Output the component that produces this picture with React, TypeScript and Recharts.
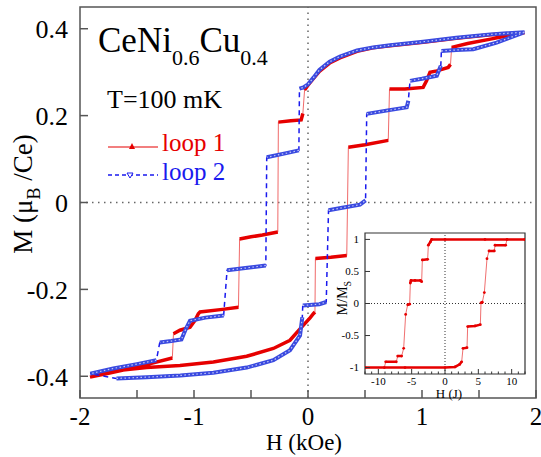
import React from 'react';
import { LineChart, Line, XAxis, YAxis, ReferenceLine, ReferenceArea } from 'recharts';

type Pt = [number, number];

// loop 1 (red): field swept down from +1.9 kOe, then back up; one array per plateau
const loop1Down: Pt[][] = [
  [[1.9, 0.391], [1.6, 0.386], [1.3, 0.378], [1.01, 0.369], [0.72, 0.361], [0.57, 0.356], [0.43, 0.348],
   [0.28, 0.333], [0.19, 0.321], [0.1, 0.302], [0.05, 0.286], [0.0, 0.27], [-0.03, 0.259]],
  [[-0.045, 0.205], [-0.06, 0.19], [-0.15, 0.188], [-0.26, 0.185]],
  [[-0.265, -0.068], [-0.4, -0.075], [-0.5, -0.079], [-0.6, -0.084]],
  [[-0.61, -0.241], [-0.75, -0.246], [-0.947, -0.252], [-0.962, -0.256], [-0.991, -0.271], [-1.035, -0.287],
   [-1.123, -0.294], [-1.18, -0.302]],
  [[-1.19, -0.358], [-1.4, -0.372], [-1.561, -0.382], [-1.75, -0.393], [-1.912, -0.402]],
];
const loop1Up: Pt[][] = [
  [[-1.912, -0.402], [-1.708, -0.388], [-1.415, -0.38], [-1.123, -0.375], [-0.83, -0.367], [-0.538, -0.354],
   [-0.304, -0.336], [-0.158, -0.317], [-0.056, -0.287], [0.02, -0.265], [0.047, -0.256], [0.061, -0.252]],
  [[0.065, -0.129], [0.2, -0.126], [0.34, -0.122]],
  [[0.354, 0.127], [0.5, 0.133], [0.704, 0.143]],
  [[0.715, 0.261], [0.85, 0.261], [1.01, 0.265], [1.04, 0.28], [1.07, 0.3], [1.13, 0.303], [1.23, 0.311], [1.25, 0.318]],
  [[1.26, 0.357], [1.4, 0.366], [1.6, 0.376], [1.75, 0.384], [1.89, 0.391]],
];

// loop 2 (blue)
const loop2Down: Pt[][] = [
  [[1.9, 0.392], [1.6, 0.387], [1.3, 0.379], [1.01, 0.37], [0.72, 0.362], [0.57, 0.357], [0.43, 0.35],
   [0.28, 0.336], [0.19, 0.324], [0.1, 0.305], [0.05, 0.288], [0.0, 0.272], [-0.04, 0.265], [-0.075, 0.262]],
  [[-0.08, 0.12], [-0.2, 0.113], [-0.362, 0.104]],
  [[-0.37, -0.145], [-0.55, -0.151], [-0.71, -0.156]],
  [[-0.74, -0.26], [-0.9, -0.265], [-1.035, -0.272], [-1.07, -0.29], [-1.11, -0.315], [-1.2, -0.319], [-1.3, -0.322]],
  [[-1.33, -0.363], [-1.5, -0.372], [-1.708, -0.382], [-1.91, -0.394]],
];
const loop2Up: Pt[][] = [
  [[-1.68, -0.405], [-1.415, -0.402], [-1.12, -0.398], [-0.83, -0.392], [-0.538, -0.38], [-0.304, -0.363],
   [-0.158, -0.34], [-0.07, -0.306], [-0.05, -0.264]],
  [[-0.046, -0.237], [0.1, -0.234], [0.16, -0.229]],
  [[0.18, -0.018], [0.3, -0.012], [0.456, -0.005], [0.505, 0.005]],
  [[0.515, 0.204], [0.7, 0.212], [0.866, 0.219], [0.88, 0.234]],
  [[0.895, 0.28], [1.0, 0.285], [1.13, 0.292], [1.165, 0.315]],
  [[1.17, 0.349], [1.3, 0.351], [1.45, 0.353], [1.655, 0.368], [1.89, 0.391]],
];

// inset: M/Ms vs H (J)
const insetDown: Pt[][] = [
  [[12, 1.0], [6, 1.0], [0, 1.0], [-2.0, 1.0], [-2.2, 0.96], [-2.5, 0.91]],
  [[-2.6, 0.69], [-3.4, 0.68]],
  [[-3.5, 0.34], [-3.7, 0.36], [-4.5, 0.36], [-5.1, 0.36], [-5.2, 0.32]],
  [[-5.3, -0.01], [-5.6, -0.02]],
  [[-5.9, -0.17]],
  [[-6.2, -0.7]],
  [[-6.5, -0.82], [-7.1, -0.82]],
  [[-7.3, -0.91], [-8.9, -0.91]],
  [[-9.1, -1.0], [-12, -1.0]],
];
const insetUp: Pt[][] = [
  [[-12, -1.0], [-6, -1.0], [0, -1.0], [1.5, -0.99], [2.2, -0.95], [2.5, -0.91]],
  [[2.7, -0.7], [3.3, -0.69]],
  [[3.4, -0.36], [4.5, -0.35], [5.3, -0.33]],
  [[5.4, 0.01], [5.6, 0.02]],
  [[5.9, 0.17]],
  [[6.3, 0.7]],
  [[6.6, 0.82], [7.4, 0.82]],
  [[7.5, 0.91], [9.1, 0.91]],
  [[9.3, 1.0], [12, 1.0]],
];

// all tick positions; only the ones in the *Labels lists get a number
const mainXTicks = [-2, -1.5, -1, -0.5, 0, 0.5, 1, 1.5, 2];
const mainXLabels = [-2, -1, 0, 1, 2];
const mainYTicks = [-0.4, -0.2, 0, 0.2, 0.4];
const insetXTicks = [-12, -11, -10, -9, -8, -7, -6, -5, -4, -3, -2, -1, 0, 1, 2, 3, 4, 5, 6, 7, 8, 9, 10, 11, 12];
const insetXLabels = [-10, -5, 0, 5, 10];
const insetYTicks = [-1, -0.5, 0, 0.5, 1];

const serif = 'Liberation Serif, Times New Roman, serif';

// thin line through every point, and a thick band that breaks at each jump
const thin = (segs: Pt[][]) => segs.flat().map(([x, y]) => ({ x, y }));
const band = (segs: Pt[][]) =>
  segs.flatMap((s) => [...s.map(([x, y]) => ({ x, y })), { x: s[s.length - 1][0], y: null }]);

const loop1 = [...loop1Down, ...loop1Up];
const loop2 = [...loop2Down, ...loop2Up];
const inset = [...insetDown, ...insetUp];

// ticks point into the plot, labels sit outside
const bottomTick = (gap: number, major: number, minor: number, labels: number[], fontSize: number, color: string, sw: number) =>
  (props: any) => {
    const { x, y, payload } = props;
    const on = labels.includes(payload.value);
    const y0 = y - gap;
    return (
      <g>
        <line x1={x} x2={x} y1={y0} y2={y0 - (on ? major : minor)} stroke={color} strokeWidth={sw} />
        {on && (
          <text x={x} y={y} dy="0.71em" textAnchor="middle" fontFamily={serif} fontSize={fontSize} fill="#000">
            {payload.value}
          </text>
        )}
      </g>
    );
  };

const leftTick = (gap: number, len: number, fontSize: number, color: string, sw: number) =>
  (props: any) => {
    const { x, y, payload } = props;
    const x0 = x + gap;
    return (
      <g>
        <line x1={x0} x2={x0 + len} y1={y} y2={y} stroke={color} strokeWidth={sw} />
        <text x={x} y={y} dy="0.355em" textAnchor="end" fontFamily={serif} fontSize={fontSize} fill="#000">
          {payload.value}
        </text>
      </g>
    );
  };

const MainChart = () => (
  <LineChart width={541} height={457} margin={{ top: 7, right: 5, bottom: 58, left: 79 }}>
    <XAxis type="number" dataKey="x" domain={[-2, 2]} ticks={mainXTicks} allowDataOverflow interval={0}
      axisLine={false} tickLine={false} tickSize={0} tickMargin={9} height={1}
      tick={bottomTick(9, 8, 8, mainXLabels, 25, '#555', 1.5)} />
    <YAxis type="number" domain={[-0.45, 0.45]} ticks={mainYTicks} allowDataOverflow interval={0}
      axisLine={false} tickLine={false} tickSize={0} tickMargin={12} width={1}
      tick={leftTick(12, 8, 26, '#555', 1.5)} />
    <ReferenceArea x1={-2} x2={2} y1={-0.45} y2={0.45} fill="none" stroke="#555" strokeWidth={1.5} ifOverflow="visible" />
    <ReferenceLine x={0} stroke="#666" strokeWidth={1.5} strokeDasharray="1.5 4.5" />
    <ReferenceLine y={0} stroke="#666" strokeWidth={1.5} strokeDasharray="1.5 4.5" />

    <Line data={thin(loop1)} dataKey="y" stroke="#f06a6a" strokeWidth={1} dot={false} isAnimationActive={false} />
    <Line data={band(loop1)} dataKey="y" stroke="#e60000" strokeWidth={3.5} dot={false} connectNulls={false} isAnimationActive={false} />
    <Line data={thin(loop2)} dataKey="y" stroke="#1a1aee" strokeWidth={1.5} strokeDasharray="5 4" dot={false} isAnimationActive={false} />
    <Line data={band(loop2)} dataKey="y" stroke="#3a4ae0" strokeWidth={4} dot={false} connectNulls={false} isAnimationActive={false} />
    <Line data={band(loop2)} dataKey="y" stroke="#ffffff" strokeOpacity={0.7} strokeWidth={1.2} strokeDasharray="1.5 2.5" dot={false} connectNulls={false} isAnimationActive={false} />
  </LineChart>
);

const InsetChart = () => (
  <LineChart width={200} height={180} margin={{ top: 8, right: 5, bottom: 30, left: 34 }}>
    <XAxis type="number" dataKey="x" domain={[-12, 12]} ticks={insetXTicks} allowDataOverflow interval={0}
      axisLine={false} tickLine={false} tickSize={0} tickMargin={3} height={1}
      tick={bottomTick(3, 5, 2.5, insetXLabels, 11, '#333', 1)} />
    <YAxis type="number" domain={[-1.1, 1.1]} ticks={insetYTicks} allowDataOverflow interval={0}
      axisLine={false} tickLine={false} tickSize={0} tickMargin={6} width={1}
      tick={leftTick(6, 5, 11, '#333', 1)} />
    <ReferenceArea x1={-12} x2={12} y1={-1.1} y2={1.1} fill="#fff" fillOpacity={1} stroke="#333" strokeWidth={1.2} ifOverflow="visible" />
    <ReferenceLine x={0} stroke="#333" strokeDasharray="1 2" />
    <ReferenceLine y={0} stroke="#333" strokeDasharray="1 2" />
    <Line data={thin(inset)} dataKey="y" stroke="#f07070" strokeWidth={1} dot={false} isAnimationActive={false} />
    <Line data={band(inset)} dataKey="y" stroke="#e60000" strokeWidth={2.5} connectNulls={false}
      dot={{ r: 1.4, fill: '#e60000', stroke: 'none' }} isAnimationActive={false} />
  </LineChart>
);

export default function App() {
  return (
    <div style={{ position: 'absolute', left: 0, top: 0, width: 541, height: 457, background: '#fff' }}>
      <MainChart />
      <div style={{ position: 'absolute', left: 330, top: 225 }}>
        <InsetChart />
      </div>
      <svg width={541} height={457} style={{ position: 'absolute', left: 0, top: 0, pointerEvents: 'none' }}
        fontFamily={serif}>
        <text x={98} y={52} fontSize={35} fill="#000">
          CeNi<tspan fontSize={22} dy={13}>0.6</tspan><tspan dy={-13}>Cu</tspan><tspan fontSize={22} dy={13}>0.4</tspan>
        </text>
        <text x={107} y={108} fontSize={26} fill="#000">T=100 mK</text>

        <line x1={108} x2={158} y1={147} y2={147} stroke="#e60000" strokeWidth={1.2} />
        <polygon points="129,149 132,143 135,149" fill="#e60000" />
        <text x={162} y={151} fontSize={25} fill="#e60000">loop 1</text>
        <line x1={108} x2={158} y1={175} y2={175} stroke="#1a1aee" strokeWidth={1.5} strokeDasharray="4 3" />
        <polygon points="127,173 133,173 130,178" fill="#fff" stroke="#1a1aee" strokeWidth={1} />
        <text x={162} y={180} fontSize={25} fill="#1a1aee">loop 2</text>

        <text x={304} y={450} fontSize={23} textAnchor="middle" fill="#000">H (kOe)</text>
        <text transform="translate(32,194) rotate(-90)" fontSize={27} textAnchor="middle" fill="#000">
          M (μ<tspan fontSize={18} dy={8}>B</tspan><tspan dy={-8}> /Ce)</tspan>
        </text>

        <text x={449} y={398} fontSize={13} textAnchor="middle" fill="#000">H (J)</text>
        <text transform="translate(347,298) rotate(-90)" fontSize={14} textAnchor="middle" fill="#000">
          M/M<tspan fontSize={10} dy={4}>S</tspan>
        </text>
      </svg>
    </div>
  );
}
